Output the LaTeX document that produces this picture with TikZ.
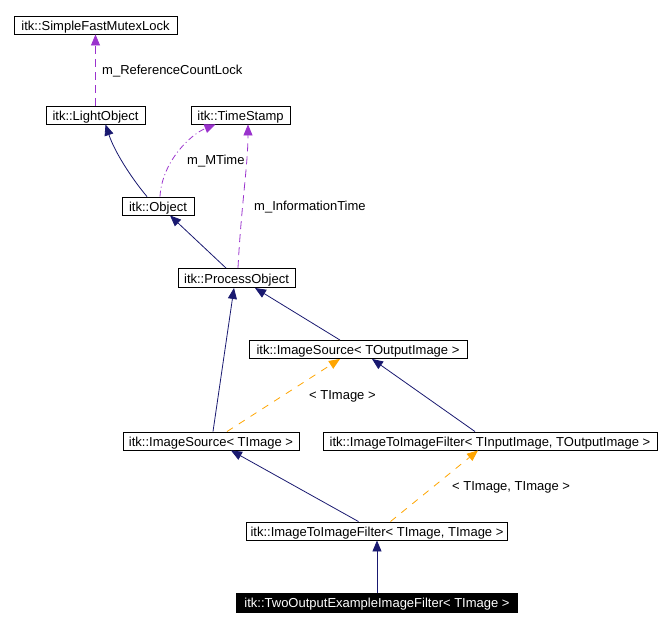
\documentclass[tikz,border=0pt]{standalone}
\usepackage{fontspec}
\setmainfont{Liberation Sans}
\usetikzlibrary{arrows.meta}
\definecolor{navyc}{RGB}{25,25,112}
\definecolor{purc}{RGB}{154,50,205}
\definecolor{orac}{RGB}{255,165,0}
\begin{document}
\begin{tikzpicture}[x=1pt,y=-1pt,
  box/.style={draw=black,line width=0.9pt,fill=white,inner sep=0pt,minimum height=18pt,text height=10.5pt,text depth=0pt,font=\fontsize{13}{14}\selectfont},
  lbl/.style={inner sep=0pt,anchor=west,font=\fontsize{13}{14}\selectfont},
  inh/.style={draw=navyc,line width=0.8pt,-{Triangle[length=11pt,width=9pt]}},
  usage/.style={draw=purc,line width=0.8pt,dash pattern=on 8pt off 5pt,-{Triangle[length=11pt,width=9pt]}},
  usagedd/.style={draw=purc,line width=0.8pt,dash pattern=on 6pt off 3pt on 1pt off 3pt,-{Triangle[length=11pt,width=9pt]}},
  tmpl/.style={draw=orac,line width=0.8pt,dash pattern=on 7pt off 7pt,-{Triangle[length=11pt,width=9pt]}}
]
\useasboundingbox (0,0) rectangle (670,627);
\node[box,minimum width=163pt] (sfml) at (95.5,25) {itk::SimpleFastMutexLock};
\node[box,minimum width=99pt] (light) at (95.5,115) {itk::LightObject};
\node[box,minimum width=99pt] (ts) at (240.5,115) {itk::TimeStamp};
\node[box,minimum width=72pt] (obj) at (158,206) {itk::Object};
\node[box,minimum width=117pt,minimum height=19pt] (po) at (236.5,278) {itk::ProcessObject};
\node[box,minimum width=218pt] (iso) at (358,349.5) {itk::ImageSource< TOutputImage >};
\node[box,minimum width=176pt] (isi) at (211,441) {itk::ImageSource< TImage >};
\node[box,minimum width=334pt] (itifio) at (490,441) {itk::ImageToImageFilter< TInputImage, TOutputImage >};
\node[box,minimum width=261pt] (itifii) at (377,531) {itk::ImageToImageFilter< TImage, TImage >};
\node[box,fill=black,text=white,minimum width=281pt,minimum height=19pt] (two) at (377,602.5) {itk::TwoOutputExampleImageFilter< TImage >};

\draw[usage] (light.north) -- (sfml.south);
\node[lbl] (l1) at (102,71) {m\_ReferenceCountLock};

\draw[inh] ([xshift=-11pt]obj.north) .. controls +(-12,-14) and +(10,30) .. ([xshift=10pt]light.south);
\draw[usagedd] ([xshift=2pt]obj.north) .. controls +(2,-35) and +(-25,10) .. ([xshift=-25pt]ts.south);
\node[lbl] (l2) at (187,161) {m\_MTime};
\draw[usage] ([xshift=1.5pt]po.north) .. controls +(3,-60) and +(0,40) .. ([xshift=7.5pt]ts.south);
\node[lbl] (l3) at (254,207) {m\_InformationTime};

\draw[inh] ([xshift=-10.5pt]po.north) -- ([xshift=12pt]obj.south);
\draw[inh] ([xshift=-18pt]iso.north) -- ([xshift=18.5pt]po.south);
\draw[inh] ([xshift=2pt]isi.north) -- ([xshift=-2.5pt]po.south);
\draw[tmpl] ([xshift=16pt]isi.north) -- ([xshift=-18pt]iso.south);
\node[lbl] (l4) at (309,396) {< TImage >};
\draw[inh] ([xshift=-15pt]itifio.north) -- ([xshift=14pt]iso.south);
\draw[inh] ([xshift=-18.5pt]itifii.north) -- ([xshift=20pt]isi.south);
\draw[tmpl] ([xshift=13.5pt]itifii.north) -- ([xshift=-12pt]itifio.south);
\node[lbl] (l5) at (452,487) {< TImage, TImage >};
\draw[inh] (two.north) -- (itifii.south);
\end{tikzpicture}
\end{document}
